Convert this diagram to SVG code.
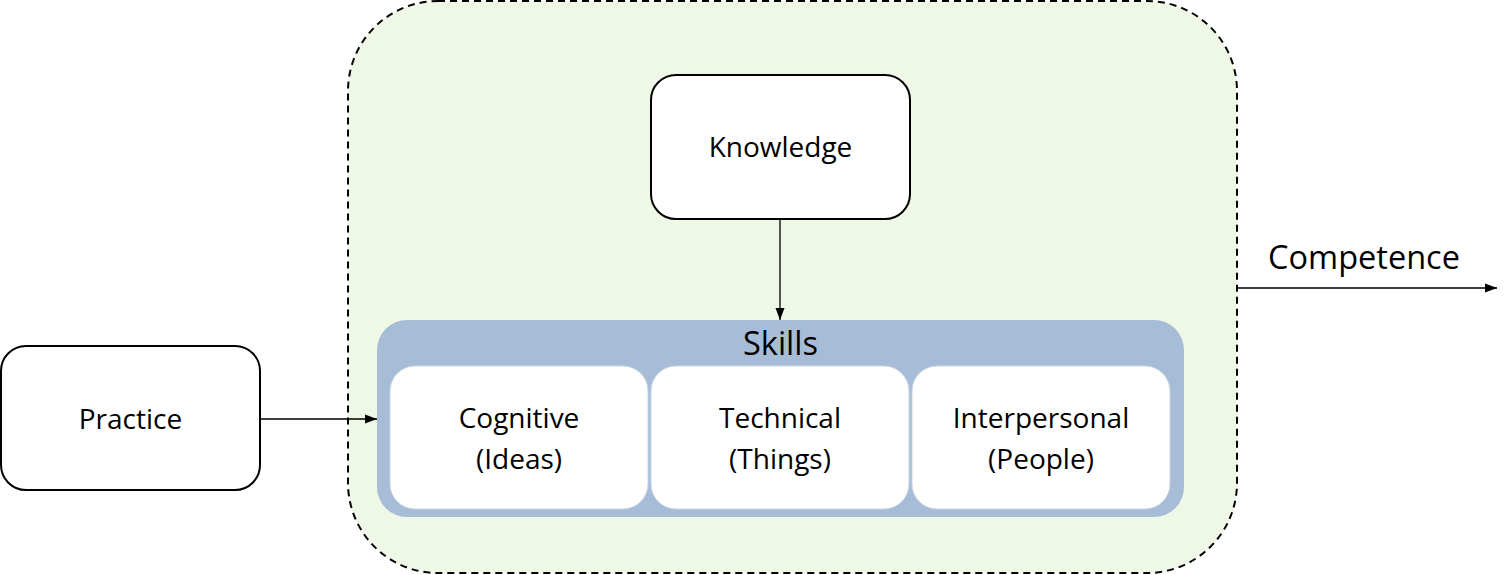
<svg xmlns="http://www.w3.org/2000/svg" width="1509" height="575" viewBox="0 0 1509 575">
<defs>
<marker id="ah" markerWidth="12" markerHeight="10" refX="12" refY="5" orient="auto" markerUnits="userSpaceOnUse">
<path d="M0,0.5 L12,5 L0,9.5 Z" fill="#000"/>
</marker>
<style>
.box{fill:#fff;stroke:#000;stroke-width:2}
.inner{fill:#fff;stroke:#c9d7e8;stroke-width:1}
.t{font-family:"Open Sans","Liberation Sans",sans-serif;font-size:28px;fill:#000;text-anchor:middle}
.big{font-size:32.5px}
.conn{stroke:#000;stroke-width:1.3;fill:none;marker-end:url(#ah)}
</style>
</defs>
<rect width="1509" height="575" fill="#fff"/>
<g id="competence-area">
<rect x="348" y="1" width="889" height="572" rx="90" ry="90" fill="#eff8e6" stroke="#000" stroke-width="2" stroke-dasharray="7,5"/>
</g>
<g id="knowledge">
<rect class="box" x="651" y="75" width="259" height="144" rx="25"/>
<text class="t" x="780.5" y="157">Knowledge</text>
</g>
<g id="skills">
<rect x="377" y="320" width="807" height="197" rx="30" fill="#a7bcd7"/>
<text class="t big" x="780.5" y="355">Skills</text>
</g>
<g id="cognitive">
<rect class="inner" x="390" y="366" width="258" height="143" rx="25"/>
<text class="t" x="519" y="428">Cognitive</text>
<text class="t" x="519" y="469">(Ideas)</text>
</g>
<g id="technical">
<rect class="inner" x="651" y="366" width="258" height="143" rx="25"/>
<text class="t" x="780" y="428">Technical</text>
<text class="t" x="780" y="469">(Things)</text>
</g>
<g id="interpersonal">
<rect class="inner" x="912" y="366" width="258" height="143" rx="25"/>
<text class="t" x="1041" y="428">Interpersonal</text>
<text class="t" x="1041" y="469">(People)</text>
</g>
<g id="practice">
<rect class="box" x="1" y="346" width="259" height="144" rx="25"/>
<text class="t" x="130.5" y="429">Practice</text>
</g>
<g id="competence-label">
<text class="t big" x="1364" y="269">Competence</text>
</g>
<g id="connectors">
<line class="conn" x1="780" y1="219" x2="780" y2="320"/>
<line class="conn" x1="260" y1="419" x2="377" y2="419"/>
<line class="conn" x1="1237" y1="288" x2="1497" y2="288"/>
</g>
</svg>
